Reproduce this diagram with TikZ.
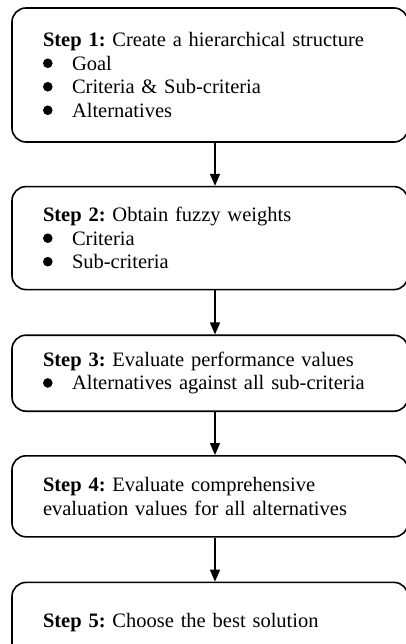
\documentclass[tikz,border=0pt]{standalone}
\usepackage{fontspec}
\setmainfont{Liberation Serif}
\usepackage{tikz}
\usetikzlibrary{arrows.meta,positioning,calc}
\tikzstyle{stepbox}=[draw,line width=1.6pt,rounded corners=14pt,text width=334pt,align=left,inner xsep=31pt,inner ysep=0pt,font=\fontsize{20.5}{23.5}\selectfont\frenchspacing]
\tikzstyle{flow}=[line width=1.6pt,-{Triangle[length=12pt,width=10pt]}]
\newcommand{\bul}{\makebox[29pt][l]{\tikz[baseline={(0,-7pt)}]\fill (4.8pt,0) circle (4.8pt);}}

\begin{document}
\begin{tikzpicture}
\useasboundingbox (0,0) rectangle (406pt,-644pt);
\node [stepbox,minimum height=134pt] (s1) at (210pt,-75pt) {\textbf{Step 1:} Create a hierarchical structure\\
  \bul Goal\\
  \bul Criteria \& Sub-criteria\\
  \bul Alternatives};
\node [stepbox,minimum height=103pt,below=43pt of s1] (s2) {\textbf{Step 2:} Obtain fuzzy weights\\
  \bul Criteria\\
  \bul Sub-criteria};
\node [stepbox,minimum height=76pt,below=44pt of s2] (s3) {\textbf{Step 3:} Evaluate performance values\\
  \bul Alternatives against all sub-criteria};
\node [stepbox,minimum height=81pt,below=43pt of s3] (s4) {\textbf{Step 4:} Evaluate comprehensive\\
  evaluation values for all alternatives};
\node [stepbox,minimum height=80pt,below=44pt of s4] (s5) {\textbf{Step 5:} Choose the best solution};

\draw [flow] ([xshift=5pt]s1.south) -- ([xshift=5pt]s2.north);
\draw [flow] ([xshift=5pt]s2.south) -- ([xshift=5pt]s3.north);
\draw [flow] ([xshift=5pt]s3.south) -- ([xshift=5pt]s4.north);
\draw [flow] ([xshift=5pt]s4.south) -- ([xshift=5pt]s5.north);
\end{tikzpicture}
\end{document}
